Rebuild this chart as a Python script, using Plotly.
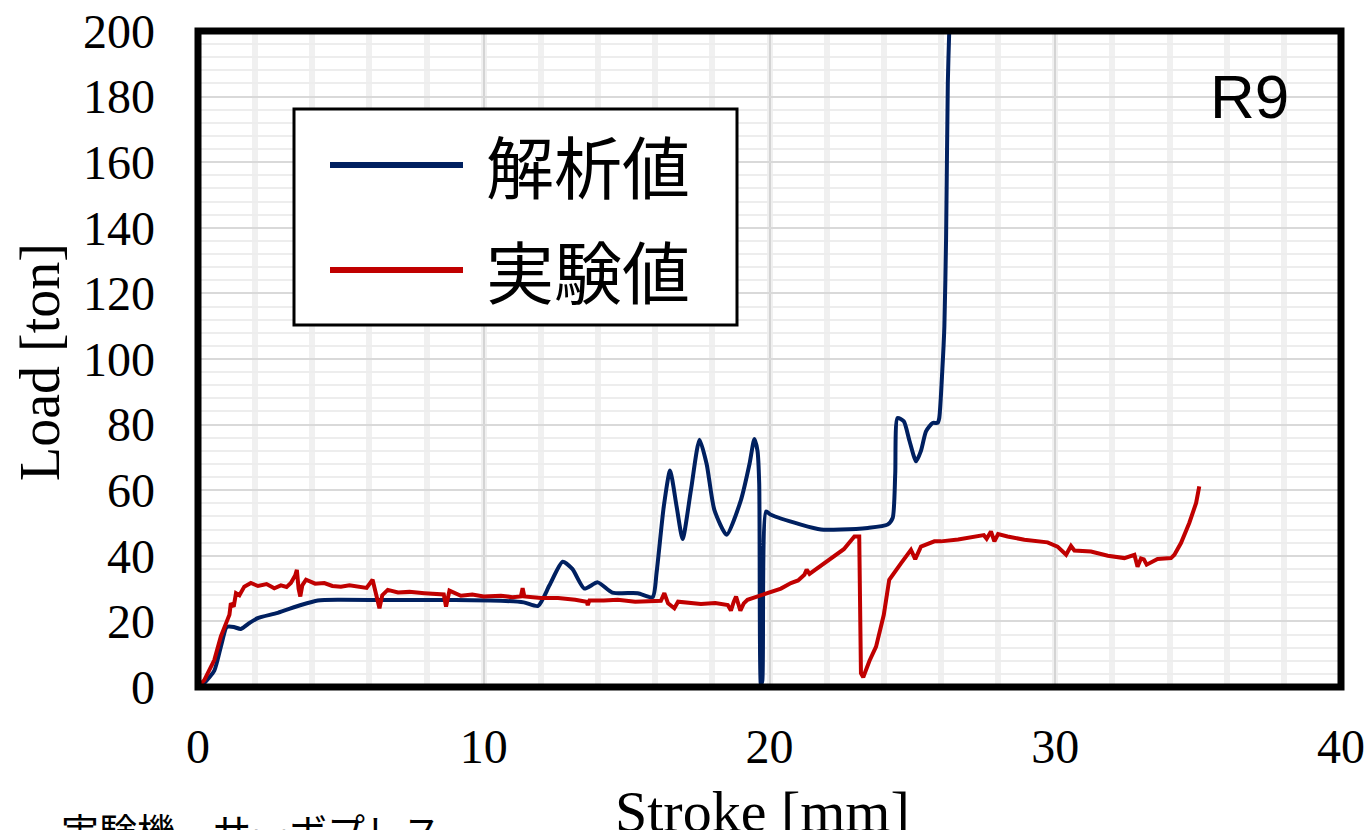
import plotly.graph_objects as go

# ---------------- data ----------------
analysis_x = [0, 0.22, 0.57, 0.8, 0.98, 1.04, 1.25, 1.5, 1.8, 2.09, 2.79, 3.6, 4.19, 5.0, 7.0, 9.0,
              10.6, 11.4, 11.9, 12.3, 12.76, 13.1, 13.52, 13.99, 14.5, 15.39, 15.91, 16.05, 16.3,
              16.52, 16.75, 16.96, 17.25, 17.55, 17.8, 18.07, 18.5, 19.0, 19.3, 19.47, 19.58, 19.64,
              19.70, 19.75, 19.88, 20.05, 21.1, 21.8, 22.5, 23.44, 24.13, 24.31, 24.4, 24.48, 24.7,
              24.9, 25.13, 25.3, 25.48, 25.71, 25.88, 25.94, 26.05, 26.12, 26.18, 26.24, 26.29, 26.35]
analysis_y = [0, 1.2, 5, 12.3, 18, 18.4, 18.3, 17.7, 19.5, 21, 22.6, 25, 26.4, 26.6, 26.5, 26.5,
              26.3, 25.8, 24.7, 31, 38.2, 36, 30, 31.9, 28.8, 28.6, 27.4, 35, 55,
              66, 55, 45.1, 60, 75.4, 68, 54, 46.4, 57, 68, 75.6, 72, 62,
              0.5, 2, 53.5, 52.5, 49.5, 48, 48, 48.5, 49.5, 51.5, 65, 82, 81,
              75, 68.8, 72, 78, 80.5, 80.5, 82, 97, 110, 137, 184, 200, 215]

experiment_x = [0, 0.22, 0.57, 0.8, 0.98, 1.1, 1.15, 1.25, 1.33, 1.45, 1.62, 1.85, 2.1, 2.4, 2.67,
                2.9, 3.1, 3.25, 3.4, 3.46, 3.52, 3.58, 3.65, 3.78, 4.1, 4.42, 4.7, 5.0, 5.3, 5.59,
                5.9, 6.11, 6.2, 6.3, 6.35, 6.45, 6.64, 7.0, 7.4, 7.92, 8.3, 8.6, 8.68, 8.75, 8.8,
                9.2, 9.6, 10.0, 10.6, 11.0, 11.3, 11.36, 11.42, 12.0, 12.6, 13.2, 13.6, 13.64, 13.7,
                14.2, 14.69, 15.3, 15.91, 16.2, 16.32, 16.45, 16.67, 16.8, 17.6, 18.1, 18.54, 18.65,
                18.75, 18.83, 18.98, 19.1, 19.23, 19.58, 19.93, 20.4, 20.75, 21.0, 21.22, 21.3, 21.4,
                21.8, 22.27, 22.6, 22.97, 23.14, 23.2, 23.28, 23.5, 23.73, 24.0, 24.19, 24.6, 24.95,
                25.1, 25.3, 25.77, 26.0, 26.6, 27.17, 27.5, 27.6, 27.75, 27.87, 28.0, 28.33, 28.92,
                29.73, 30.08, 30.38, 30.55, 30.67, 31.25, 31.84, 32.42, 32.77, 32.88, 33.0, 33.1,
                33.2, 33.58, 34.05, 34.17, 34.4, 34.69, 34.93, 35.04]
experiment_y = [0, 2.1, 8.2, 15.4, 19.4, 22, 25.5, 24.5, 28.6, 28, 30.6, 31.7, 30.8, 31.4, 30.1,
                31, 30.5, 31.7, 34, 35.7, 30, 27.6, 31, 32.7, 31.5, 31.7, 30.8, 30.6, 31, 30.5,
                30.2, 32.7, 29, 25, 24, 28, 29.6, 28.8, 29, 28.6, 28.5, 28.2, 24.5, 28, 29.4,
                27.8, 28.2, 27.6, 27.8, 27.4, 27.6, 30.1, 27.6, 27.1, 27.1, 26.6, 26, 25, 26.4,
                26.4, 26.6, 26, 26, 26.3, 28.6, 25.5, 24, 26, 25.3, 25.6, 25, 23.3,
                26, 27.6, 23.3, 25.5, 26.6, 27.6, 28.6, 30, 31.7, 32.5, 34.2, 35.8, 34.5,
                37, 39.8, 42, 45.9, 45.9, 4.2, 3.0, 8, 12.3, 22, 32.7, 37.7, 41.8,
                39, 42.8, 44.4, 44.4, 45.0, 45.9, 46.3, 45.2, 47.4, 44.4, 46.6, 45.9, 44.9,
                44.1, 42.8, 40.3, 43.0, 41.6, 41.3, 40.0, 39.3, 40.3, 36.7, 39.2, 38.9,
                37.3, 39.0, 39.3, 40.3, 43.9, 50.0, 56.1, 61.2]

series_names = ["解析値", "実験値"]
series_colors = ["#002060", "#C00000"]
x_ticks = [0, 10, 20, 30, 40]
y_ticks = [0, 20, 40, 60, 80, 100, 120, 140, 160, 180, 200]

# ---------------- geometry helpers (page pixel -> paper) ----------------
W, H = 1366, 830
L, T = 198, 31
R = W - 1341
B = H - 687
PW, PH = W - L - R, H - T - B


def px(x):
    return (x - L) / PW


def py(y):
    return (H - B - y) / PH


serif = "Liberation Serif"
cjk = "Noto Sans CJK JP"

fig = go.Figure()
fig.add_trace(go.Scatter(x=analysis_x, y=analysis_y, mode="lines", name=series_names[0],
                         line=dict(color=series_colors[0], width=4, shape="spline", smoothing=0.6),
                         showlegend=False))
fig.add_trace(go.Scatter(x=experiment_x, y=experiment_y, mode="lines", name=series_names[1],
                         line=dict(color=series_colors[1], width=4), showlegend=False))

fig.update_layout(
    width=W, height=H,
    margin=dict(l=L, r=R, t=T, b=B, autoexpand=False),
    paper_bgcolor="white", plot_bgcolor="white",
    showlegend=False,
    xaxis=dict(range=[0, 40], tickvals=x_ticks, ticktext=[str(v) for v in x_ticks],
               automargin=False, ticklabeloverflow="allow",
               showgrid=True, gridcolor="#d4d4d4", gridwidth=1.5,
               minor=dict(dtick=2, showgrid=True, gridcolor="#f0f0f0", gridwidth=6),
               zeroline=False, showline=False, ticks="",
               tickfont=dict(family=serif, size=48, color="black"),
               ticklabelstandoff=27),
    yaxis=dict(range=[0, 200], tickvals=y_ticks, ticktext=[str(v) for v in y_ticks],
               automargin=False, ticklabeloverflow="allow",
               showgrid=True, gridcolor="#d9d9d9", gridwidth=2,
               minor=dict(dtick=4, showgrid=True, gridcolor="#ededed", gridwidth=2),
               zeroline=False, showline=False, ticks="",
               tickfont=dict(family=serif, size=48, color="black"),
               ticklabelstandoff=42),
)

shapes = [
    # plot-area frame
    dict(type="rect", xref="paper", yref="paper", x0=0, x1=1, y0=0, y1=1,
         line=dict(color="black", width=7), layer="above"),
    # legend box
    dict(type="rect", xref="paper", yref="paper", x0=px(294), x1=px(737), y0=py(325), y1=py(109),
         line=dict(color="black", width=3), fillcolor="white", layer="above"),
    dict(type="line", xref="paper", yref="paper", x0=px(330), x1=px(463), y0=py(165), y1=py(165),
         line=dict(color=series_colors[0], width=6), layer="above"),
    dict(type="line", xref="paper", yref="paper", x0=px(330), x1=px(463), y0=py(270), y1=py(270),
         line=dict(color=series_colors[1], width=6), layer="above"),
]
fig.update_layout(shapes=shapes)

annotations = [
    dict(text=series_names[0], xref="paper", yref="paper", x=px(484), y=py(165),
         xanchor="left", yanchor="middle", showarrow=False,
         font=dict(family=cjk, size=68, color="black")),
    dict(text=series_names[1], xref="paper", yref="paper", x=px(484), y=py(269),
         xanchor="left", yanchor="middle", showarrow=False,
         font=dict(family=cjk, size=68, color="black")),
    dict(text="R9", xref="x", yref="y", x=36.8, y=180, xanchor="center", yanchor="middle",
         showarrow=False, font=dict(family="Liberation Sans", size=62, color="black")),
    dict(text="Load [ton]", xref="paper", yref="paper", x=px(40), y=py(362), textangle=-90,
         xanchor="center", yanchor="middle", showarrow=False,
         font=dict(family=serif, size=56, color="black")),
    dict(text="Stroke [mm]", xref="paper", yref="paper", x=px(762), y=py(778),
         xanchor="center", yanchor="top", showarrow=False, borderpad=0,
         font=dict(family=serif, size=58, color="black")),
    dict(text="実験機　サーボプレス", xref="paper", yref="paper", x=px(60), y=py(801),
         xanchor="left", yanchor="top", showarrow=False, borderpad=0,
         font=dict(family=cjk, size=38, color="black")),
]
fig.update_layout(annotations=annotations)

fig.write_html("out.html", config={"displayModeBar": False},
               post_script="document.body.style.margin='0';document.body.style.overflow='hidden';")
